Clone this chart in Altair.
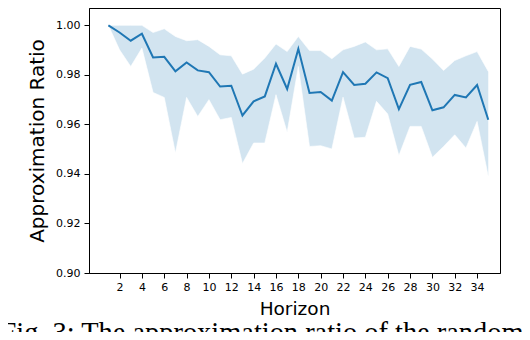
import altair as alt
import pandas as pd

horizon = list(range(1, 36))
mean_ratio = [1.000, 0.9971, 0.9938, 0.9966, 0.9870, 0.9873, 0.9814, 0.9850, 0.9818, 0.9811,
              0.9753, 0.9756, 0.9636, 0.9693, 0.9713, 0.9845, 0.9743, 0.9905, 0.9727, 0.9731,
              0.9696, 0.9811, 0.9759, 0.9764, 0.9810, 0.9787, 0.9662, 0.9760, 0.9771, 0.9657,
              0.9669, 0.9719, 0.9709, 0.9759, 0.9619]
upper_ratio = [1.000, 1.000, 1.000, 1.000, 0.9971, 0.9986, 0.9955, 0.9938, 0.9942, 0.9915,
               0.9881, 0.9877, 0.9803, 0.9823, 0.9868, 0.9925, 0.9894, 0.9955, 0.9898, 0.9898,
               0.9865, 0.9901, 0.9915, 0.9933, 0.9901, 0.9905, 0.9834, 0.9915, 0.9904, 0.9864,
               0.9818, 0.9858, 0.9877, 0.9894, 0.9814]
lower_ratio = [1.000, 0.9901, 0.9834, 0.9908, 0.9729, 0.9709, 0.9485, 0.9709, 0.9632, 0.9700,
               0.9619, 0.9628, 0.9442, 0.9525, 0.9525, 0.9720, 0.9568, 0.9834, 0.9511, 0.9514,
               0.9501, 0.9710, 0.9545, 0.9548, 0.9693, 0.9642, 0.9474, 0.9592, 0.9592, 0.9467,
               0.9511, 0.9558, 0.9505, 0.9612, 0.9390]
x_ticks = list(range(2, 35, 2))
y_ticks = [0.90, 0.92, 0.94, 0.96, 0.98, 1.00]

df = pd.DataFrame({"h": horizon, "m": mean_ratio, "lo": lower_ratio, "hi": upper_ratio})

FONT = "DejaVu Sans"
xs = alt.Scale(domain=[-0.735, 36.05], nice=False, zero=False)
ys = alt.Scale(domain=[0.90, 1.007], nice=False, zero=False)

xaxis = alt.Axis(title="Horizon", values=x_ticks, grid=False, labelFont=FONT, labelFontSize=11,
                 labelColor="black", tickColor="black", tickSize=5, domainColor="black",
                 labelPadding=3, titleFont=FONT, titleFontSize=18.5, titleFontWeight="normal",
                 titleColor="black", titlePadding=7, labelFlush=False, labelOverlap=False,
                 labelSeparation=0)
yaxis = alt.Axis(title="Approximation Ratio", values=y_ticks, format=".2f", grid=False,
                 labelFont=FONT, labelFontSize=11, labelColor="black", tickColor="black",
                 tickSize=5, domainColor="black", labelPadding=4, titleFont=FONT,
                 titleFontSize=20, titleFontWeight="normal", titleColor="black",
                 titlePadding=8, labelFlush=False, labelOverlap=False)

band = alt.Chart(df).mark_area(color="#1f77b4", opacity=0.2).encode(
    x=alt.X("h:Q", scale=xs, axis=xaxis),
    y=alt.Y("lo:Q", scale=ys, axis=yaxis, title="Approximation Ratio"),
    y2="hi:Q",
)
band_edge_hi = alt.Chart(df).mark_line(color="#ffffff", strokeWidth=1, opacity=0.6).encode(
    x=alt.X("h:Q", scale=xs, axis=xaxis), y=alt.Y("hi:Q", scale=ys, axis=yaxis))
band_edge_lo = alt.Chart(df).mark_line(color="#ffffff", strokeWidth=1, opacity=0.6).encode(
    x=alt.X("h:Q", scale=xs, axis=xaxis), y=alt.Y("lo:Q", scale=ys, axis=yaxis))
line = alt.Chart(df).mark_line(color="#1f77b4", strokeWidth=2).encode(
    x=alt.X("h:Q", scale=xs, axis=xaxis), y=alt.Y("m:Q", scale=ys, axis=yaxis))

chart = alt.layer(band, band_edge_hi, band_edge_lo, line).properties(
    width=411, height=265,
    autosize=alt.AutoSizeParams(type="none"),
    padding={"left": 81, "top": 0, "right": 22, "bottom": 59},
    title=alt.TitleParams(
        text="Fig. 3: The approximation ratio of the random-",
        orient="bottom", anchor="start", font="Liberation Serif", fontSize=28.4,
        fontWeight="normal", color="black", dx=-27, offset=2,
    ),
).configure_view(stroke="black", strokeWidth=1).configure_axis(labelOverlap=False)

chart.save("out.html", embed_options={"renderer": "svg", "actions": False})
